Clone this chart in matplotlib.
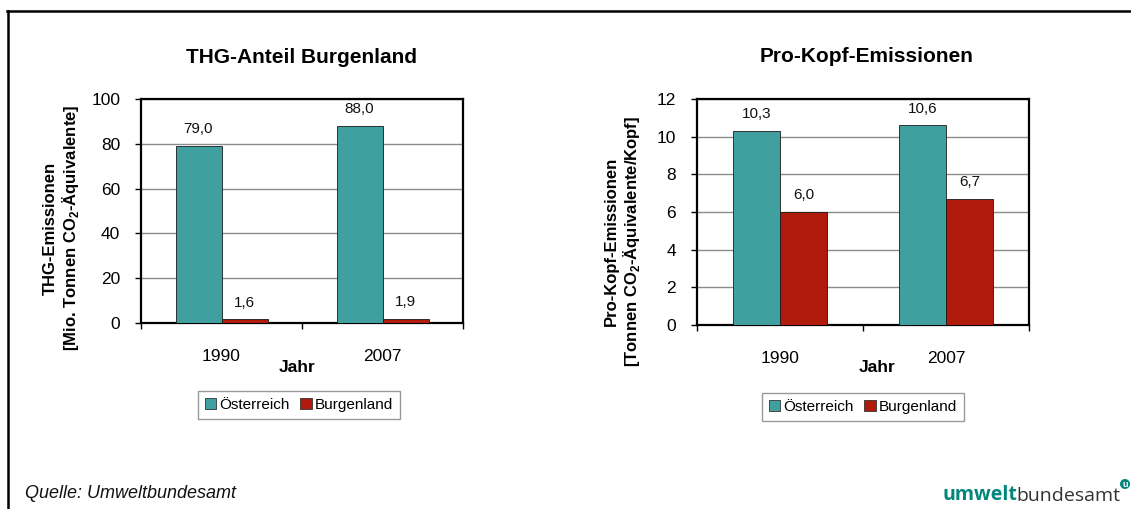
import matplotlib
matplotlib.use("Agg")
import matplotlib.pyplot as plt
from matplotlib.lines import Line2D
from matplotlib.patches import Circle
import numpy as np

plt.rcParams['font.family'] = ['Liberation Sans', 'DejaVu Sans']
plt.rcParams['mathtext.fontset'] = 'custom'
plt.rcParams['mathtext.rm'] = 'Liberation Sans'
plt.rcParams['mathtext.bf'] = 'Liberation Sans:bold'

# ---- data ----
years = ["1990", "2007"]
series_names = ["Österreich", "Burgenland"]
thg_oesterreich = [79.0, 88.0]
thg_burgenland = [1.6, 1.9]
kopf_oesterreich = [10.3, 10.6]
kopf_burgenland = [6.0, 6.7]

titles = ["THG-Anteil Burgenland", "Pro-Kopf-Emissionen"]
ylabels = [r"THG-Emissionen" "\n" r"[Mio. Tonnen CO$_{\mathbf{2}}$-Äquivalente]",
           r"Pro-Kopf-Emissionen" "\n" r"[Tonnen CO$_{\mathbf{2}}$-Äquivalente/Kopf]"]
xlabel = "Jahr"
yticks_left = [0, 20, 40, 60, 80, 100]
yticks_right = [0, 2, 4, 6, 8, 10, 12]
source = "Quelle: Umweltbundesamt"

TEAL = "#40A09F"
RED = "#B01B0C"

W, H = 1131, 509
fig = plt.figure(figsize=(W / 100, H / 100), dpi=100)
fig.patch.set_facecolor("white")


def px(x0, y0, x1, y1):
    return [x0 / W, 1 - y1 / H, (x1 - x0) / W, (y1 - y0) / H]


def draw_panel(rect, s1, s2, yticks, title, title_xy, ylabel, ylabel_xy,
               jahr_xy, legend_xy):
    ax = fig.add_axes(rect)
    x = np.arange(len(years))
    w = 1 / 3.5
    ax.bar(x - w / 2, s1, w, color=TEAL, edgecolor="#1a1a1a", linewidth=0.6,
           label=series_names[0], zorder=3)
    ax.bar(x + w / 2, s2, w, color=RED, edgecolor="#1a1a1a", linewidth=0.6,
           label=series_names[1], zorder=3)
    for xi, v in zip(x - w / 2, s1):
        ax.annotate(f"{v:.1f}".replace(".", ","), (xi, v), xytext=(0, 7),
                    textcoords="offset points", ha="center", va="bottom",
                    fontsize=11, color="#111111")
    for xi, v in zip(x + w / 2, s2):
        ax.annotate(f"{v:.1f}".replace(".", ","), (xi, v), xytext=(0, 7),
                    textcoords="offset points", ha="center", va="bottom",
                    fontsize=11, color="#111111")
    ax.set_xlim(-0.5, len(years) - 0.5)
    ax.set_ylim(yticks[0], yticks[-1])
    ax.set_yticks(yticks)
    ax.set_yticklabels([str(t) for t in yticks], fontsize=12.5)
    ax.tick_params(axis="y", direction="out", length=4, width=1, pad=11)
    ax.set_xticks(np.arange(len(years) + 1) - 0.5)
    ax.set_xticklabels([])
    ax.tick_params(axis="x", which="major", direction="out", length=4, width=1)
    ax.set_xticks(x, minor=True)
    ax.set_xticklabels(years, minor=True, fontsize=12.5)
    ax.tick_params(axis="x", which="minor", length=0, pad=19)
    ax.yaxis.grid(True, color="#8c8c8c", linewidth=1, zorder=0)
    ax.set_axisbelow(True)
    for sp in ax.spines.values():
        sp.set_linewidth(1.6)
        sp.set_color("black")
    fig.text(title_xy[0] / W, 1 - title_xy[1] / H, title, ha="center",
             va="center", fontsize=15, fontweight="bold")
    fig.text(ylabel_xy[0] / W, 1 - ylabel_xy[1] / H, ylabel, ha="center",
             va="center", rotation=90, fontsize=12, fontweight="bold",
             multialignment="center", linespacing=1.15)
    fig.text(jahr_xy[0] / W, 1 - jahr_xy[1] / H, xlabel, ha="center",
             va="center", fontsize=12.5, fontweight="bold")
    leg = ax.legend(loc="center", bbox_to_anchor=(legend_xy[0] / W, 1 - legend_xy[1] / H),
                    bbox_transform=fig.transFigure, ncol=2, fontsize=11,
                    frameon=True, fancybox=False, shadow=False,
                    handlelength=0.75, handleheight=0.75, handletextpad=0.2,
                    columnspacing=0.7, borderpad=0.45, borderaxespad=0)
    leg.get_frame().set_edgecolor("#808080")
    leg.get_frame().set_linewidth(1.0)
    for hdl in leg.legend_handles:
        hdl.set_edgecolor("#333333")
        hdl.set_linewidth(0.6)
    return ax


draw_panel(px(141, 99, 463, 323), thg_oesterreich, thg_burgenland, yticks_left,
           titles[0], (302, 58), ylabels[0], (62, 228), (297, 368), (299, 405))
draw_panel(px(697, 99, 1029, 325), kopf_oesterreich, kopf_burgenland, yticks_right,
           titles[1], (867, 57), ylabels[1], (623, 241), (877, 368), (863, 407))

# outer frame lines
fig.add_artist(Line2D([7.5 / W, 7.5 / W], [0, 1 - 10.5 / H], color="black",
                      linewidth=1.8, transform=fig.transFigure))
fig.add_artist(Line2D([6.6 / W, 1], [1 - 11 / H, 1 - 11 / H], color="black",
                      linewidth=1.8, transform=fig.transFigure))

# source
fig.text(25 / W, 1 - 493 / H, source, ha="left", va="center", fontsize=13,
         style="italic", color="#111111")

# logo
t1 = fig.text(942 / W, 1 - 500 / H, "umwelt", ha="left", va="baseline",
              fontsize=14, fontweight="bold", color="#00867A",
              family=["Open Sans", "DejaVu Sans"])
plt.annotate("bundesamt", xy=(1, 0), xycoords=t1, ha="left", va="bottom",
             fontsize=14, color="#333333", family=["Open Sans", "DejaVu Sans"],
             annotation_clip=False)
circ = Circle((1125 / 100, (H - 484) / 100), 0.05, transform=fig.dpi_scale_trans,
              facecolor="#00867A", edgecolor="none")
fig.add_artist(circ)
fig.text(1125 / W, 1 - 484.5 / H, "u", ha="center", va="center", fontsize=6.5,
         fontweight="bold", color="white")

fig.savefig("out.png", dpi=100, facecolor="white")
